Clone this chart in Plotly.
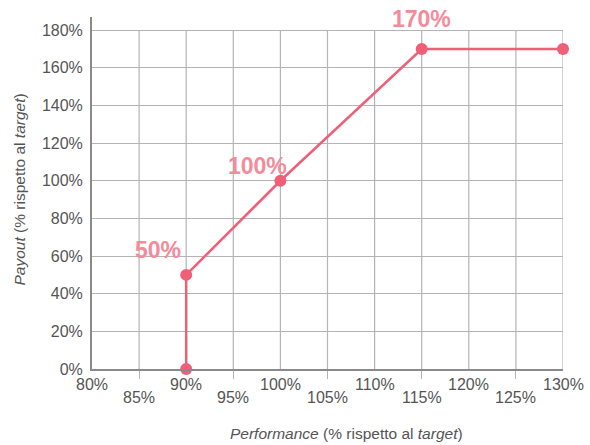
import plotly.graph_objects as go

# Payout curve: performance vs. payout (both in % of target)
performance = [90, 90, 100, 115, 130]
payout = [0, 50, 100, 170, 170]

# Highlighted points and their labels
label_x = [90, 100, 115]
label_y = [50, 100, 170]
label_text = ["50%", "100%", "170%"]
label_shift_x = [-28, -23, 0]
label_shift_y = [25, 15, 30]

# Axis ticks
x_ticks = [80, 85, 90, 95, 100, 105, 110, 115, 120, 125, 130]
x_tick_labels = [f"{v}%" for v in x_ticks]
y_ticks = [0, 20, 40, 60, 80, 100, 120, 140, 160, 180]
y_tick_labels = [f"{v}%" for v in y_ticks]

LINE = "#ef5f78"
LABEL = "#f38b9b"
GRID = "#b4b4b4"
AXIS = "#8a8a8a"
TEXT = "#555555"
FONT = "Liberation Sans, Arial, Helvetica, sans-serif"

fig = go.Figure()

fig.add_trace(go.Scatter(
    x=performance, y=payout,
    mode="lines+markers",
    line=dict(color=LINE, width=2.5),
    marker=dict(color=LINE, size=12),
    cliponaxis=False,
    hoverinfo="skip",
    showlegend=False,
))

shapes = []
# vertical gridlines stop at the top gridline
for v in x_ticks[1:]:
    shapes.append(dict(type="line", xref="x", yref="y", x0=v, x1=v,
                       y0=0, y1=y_ticks[-1], layer="below",
                       line=dict(color=GRID, width=1.2)))

annotations = []
# two-row x tick labels
for i, (v, t) in enumerate(zip(x_ticks, x_tick_labels)):
    annotations.append(dict(x=v, y=0, xref="x", yref="paper", text=t,
                            showarrow=False, xanchor="center", yanchor="middle",
                            yshift=-15 if i % 2 == 0 else -28,
                            font=dict(family=FONT, size=16, color=TEXT)))

# value labels
for x, y, t, sx, sy in zip(label_x, label_y, label_text, label_shift_x, label_shift_y):
    annotations.append(dict(x=x, y=y, xref="x", yref="y", text=f"<b>{t}</b>",
                            showarrow=False, xanchor="center", yanchor="middle",
                            xshift=sx, yshift=sy,
                            font=dict(family=FONT, size=23, color=LABEL)))

# axis titles
annotations.append(dict(x=0.54, y=0, xref="paper", yref="paper",
                        text="<i>Performance</i> (% rispetto al <i>target</i>)",
                        showarrow=False, xanchor="center", yanchor="middle",
                        yshift=-64,
                        font=dict(family=FONT, size=15.5, color=TEXT)))
annotations.append(dict(x=0, y=0.51, xref="paper", yref="paper",
                        text="<i>Payout</i> (% rispetto al <i>target</i>)",
                        showarrow=False, xanchor="center", yanchor="middle",
                        xshift=-73, textangle=-90,
                        font=dict(family=FONT, size=15.5, color=TEXT)))

fig.update_layout(
    width=590, height=445,
    margin=dict(l=92, r=27, t=17, b=76),
    paper_bgcolor="white", plot_bgcolor="white",
    font=dict(family=FONT, color=TEXT),
    shapes=shapes,
    annotations=annotations,
    xaxis=dict(
        range=[80, 130],
        tickvals=x_ticks[1::2],
        ticks="outside", ticklen=8, tickcolor=GRID, tickwidth=1.2,
        showticklabels=False,
        showgrid=False, zeroline=False,
        showline=True, linecolor=AXIS, linewidth=2,
    ),
    yaxis=dict(
        range=[0, 187],
        tickvals=y_ticks,
        ticktext=y_tick_labels,
        tickfont=dict(family=FONT, size=16, color=TEXT),
        ticks="", ticklabelstandoff=4,
        showgrid=True, gridcolor=GRID, gridwidth=1.2,
        zeroline=False,
        showline=True, linecolor=AXIS, linewidth=2,
    ),
)

fig.write_html("out.html")
